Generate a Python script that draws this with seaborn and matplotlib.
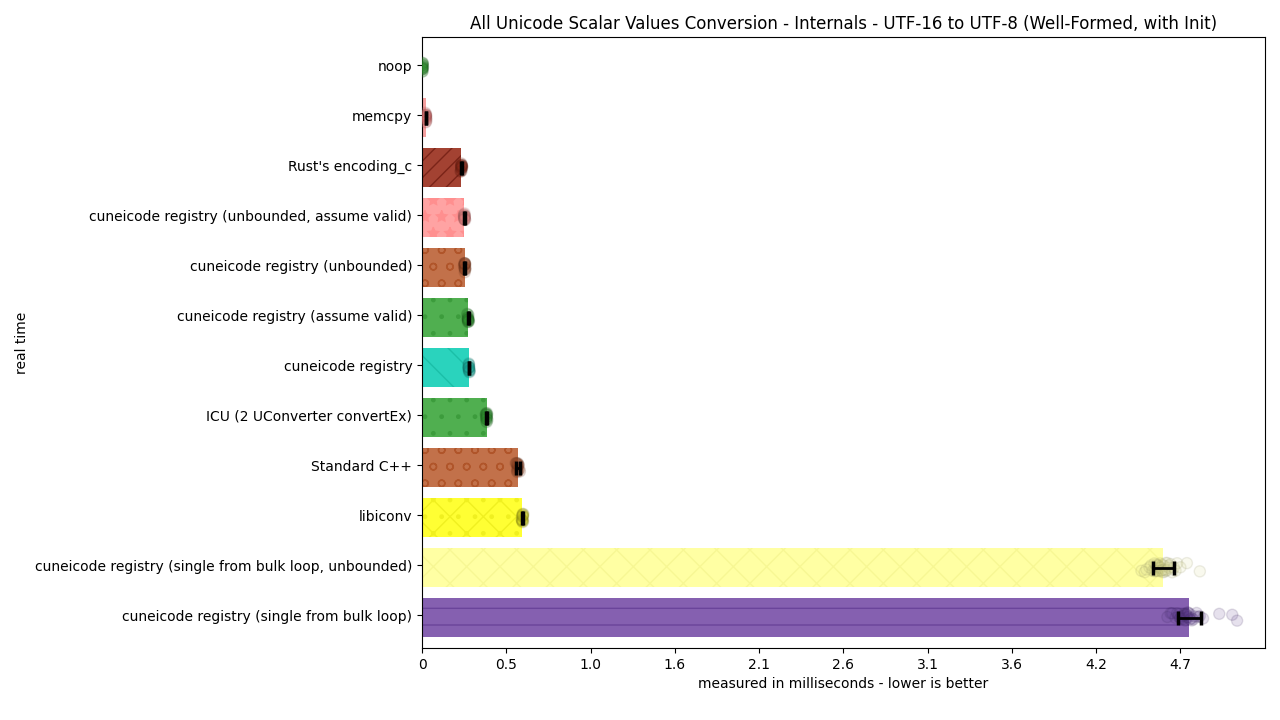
import numpy as np
import pandas as pd
import matplotlib
matplotlib.use("Agg")
import matplotlib.pyplot as plt
import matplotlib.colors as mcolors
import seaborn as sns

# benchmark names, top to bottom
names = [
    "noop",
    "memcpy",
    "Rust's encoding_c",
    "cuneicode registry (unbounded, assume valid)",
    "cuneicode registry (unbounded)",
    "cuneicode registry (assume valid)",
    "cuneicode registry",
    "ICU (2 UConverter convertEx)",
    "Standard C++",
    "libiconv",
    "cuneicode registry (single from bulk loop, unbounded)",
    "cuneicode registry (single from bulk loop)",
]

# mean and stddev of real time, milliseconds (noop: no visible error bar)
means = [0.003, 0.024, 0.243, 0.262, 0.264, 0.284, 0.290, 0.398, 0.590, 0.620, 4.574, 4.735]
stddevs = [np.nan, 0.002, 0.003, 0.002, 0.003, 0.003, 0.002, 0.003, 0.012, 0.003, 0.065, 0.072]

# individual repetitions (ms)
s_noop = [0.001, 0.002, 0.002, 0.003, 0.003, 0.003, 0.004, 0.004, 0.005, 0.006, 0.003, 0.002,
          0.003, 0.004, 0.002, 0.003]
s_memcpy = [0.020, 0.021, 0.022, 0.023, 0.024, 0.024, 0.025, 0.025, 0.026, 0.027, 0.024, 0.023,
            0.024, 0.025, 0.023, 0.024]
s_rust = [0.238, 0.240, 0.241, 0.242, 0.243, 0.244, 0.245, 0.246, 0.247, 0.248, 0.244, 0.243,
          0.245, 0.244, 0.243, 0.246]
s_unb_av = [0.258, 0.259, 0.260, 0.261, 0.262, 0.263, 0.263, 0.264, 0.265, 0.266, 0.262, 0.261,
            0.263, 0.262, 0.264, 0.263]
s_unb = [0.259, 0.261, 0.262, 0.263, 0.264, 0.265, 0.265, 0.266, 0.267, 0.268, 0.264, 0.263,
         0.265, 0.264, 0.266, 0.265]
s_av = [0.279, 0.281, 0.282, 0.283, 0.284, 0.285, 0.286, 0.287, 0.288, 0.290, 0.284, 0.283,
        0.285, 0.284, 0.286, 0.285]
s_reg = [0.286, 0.287, 0.288, 0.289, 0.290, 0.291, 0.292, 0.293, 0.294, 0.290, 0.289, 0.291,
         0.290, 0.291, 0.289, 0.290]
s_icu = [0.393, 0.395, 0.396, 0.397, 0.398, 0.399, 0.400, 0.401, 0.402, 0.404, 0.398, 0.397,
         0.399, 0.398, 0.400, 0.399]
s_std = [0.578, 0.582, 0.585, 0.588, 0.590, 0.592, 0.594, 0.597, 0.600, 0.604, 0.589, 0.591,
         0.586, 0.593, 0.590, 0.588]
s_iconv = [0.615, 0.617, 0.618, 0.619, 0.620, 0.621, 0.622, 0.623, 0.624, 0.626, 0.620, 0.619,
           0.621, 0.620, 0.622, 0.621]
s_bulk_unb = [4.44, 4.46, 4.47, 4.49, 4.50, 4.51, 4.52, 4.52, 4.53, 4.53, 4.54, 4.54, 4.545,
              4.55, 4.55, 4.555, 4.56, 4.56, 4.565, 4.57, 4.57, 4.575, 4.58, 4.58, 4.585,
              4.59, 4.59, 4.60, 4.60, 4.61, 4.61, 4.62, 4.63, 4.64, 4.65, 4.66, 4.68, 4.72,
              4.80]
s_bulk = [4.60, 4.62, 4.63, 4.65, 4.66, 4.67, 4.67, 4.68, 4.68, 4.69, 4.69, 4.70, 4.70,
          4.705, 4.71, 4.71, 4.715, 4.72, 4.72, 4.725, 4.73, 4.73, 4.74, 4.74, 4.75, 4.75,
          4.76, 4.77, 4.78, 4.79, 4.80, 4.82, 4.92, 5.00, 5.03]
samples = [s_noop, s_memcpy, s_rust, s_unb_av, s_unb, s_av, s_reg, s_icu, s_std,
           s_iconv, s_bulk_unb, s_bulk]

bar_colors = ["#2e9a2e", "#f5a0a0", "#a34232", "#ffa3a3", "#c2714a", "#50af50",
              "#2ad3bd", "#50af50", "#c2714a", "#ffff33", "#ffffa3", "#8560b0"]
hatch_colors = ["#2e9a2e", "#ef8f8f", "#7a2418", "#ff8f8f", "#b0552a", "#3c9c3c",
                "#1bbfa8", "#3c9c3c", "#b0552a", "#f0f020", "#f7f794", "#6a449a"]
point_colors = ["#2a8a2a", "#d87070", "#8a2a1a", "#e08080", "#9a4a28", "#2e8e2e",
                "#1aa898", "#2e8e2e", "#9a4a28", "#c8c820", "#d8d890", "#5a3a8a"]
hatches = ["", "", "//", "*", "o", ".", "\\", ".", "o", "x.", "x", "-"]

x_max = 5.2

bars = pd.DataFrame({"name": names, "mean": means})
reps = pd.DataFrame({
    "name": [n for n, s in zip(names, samples) for _ in s],
    "time": [v for s in samples for v in s],
})

np.random.seed(3)
fig, ax = plt.subplots(figsize=(12.8, 7.2), dpi=100)
fig.subplots_adjust(left=0.3297, right=0.988, top=0.9486, bottom=0.1)

sns.barplot(data=bars, x="mean", y="name", hue="name", palette=bar_colors,
            order=names, hue_order=names, errorbar=None, width=0.78, saturation=1,
            legend=False, ax=ax, zorder=2)
for patch, h, hc in zip(ax.patches, hatches, hatch_colors):
    patch.set_hatch(h)
    patch.set_edgecolor(hc)
    patch.set_linewidth(0)

sns.stripplot(data=reps, x="time", y="name", hue="name", palette=point_colors,
              order=names, hue_order=names, jitter=0.1, size=8, alpha=0.15,
              linewidth=1, legend=False, ax=ax, zorder=3)
for coll in ax.collections:
    fc = coll.get_facecolor()
    if len(fc):
        rgb = np.array(mcolors.to_rgb(fc[0][:3])) * 0.65
        coll.set_edgecolor((*rgb, 0.3))

ax.errorbar(means, np.arange(len(names)), xerr=stddevs, fmt="none", ecolor="black",
            elinewidth=2, capsize=5, capthick=2.5, zorder=5)

ticks = np.linspace(0, x_max, 11)[:-1]
ax.set_xticks(ticks)
ax.set_xticklabels(["0"] + [f"{t:.1f}" for t in ticks[1:]])
ax.set_xlim(0, x_max)
# labels sit slightly above the bar centres in the original
ax.set_yticks(np.arange(len(names)) - 0.05, names)
ax.set_ylim(11.61, -0.61)

ax.set_title("All Unicode Scalar Values Conversion - Internals - UTF-16 to UTF-8 (Well-Formed, with Init)",
             fontsize=12)
ax.set_xlabel("measured in milliseconds - lower is better")
ax.set_ylabel("real time")

fig.savefig("out.png", dpi=100)
